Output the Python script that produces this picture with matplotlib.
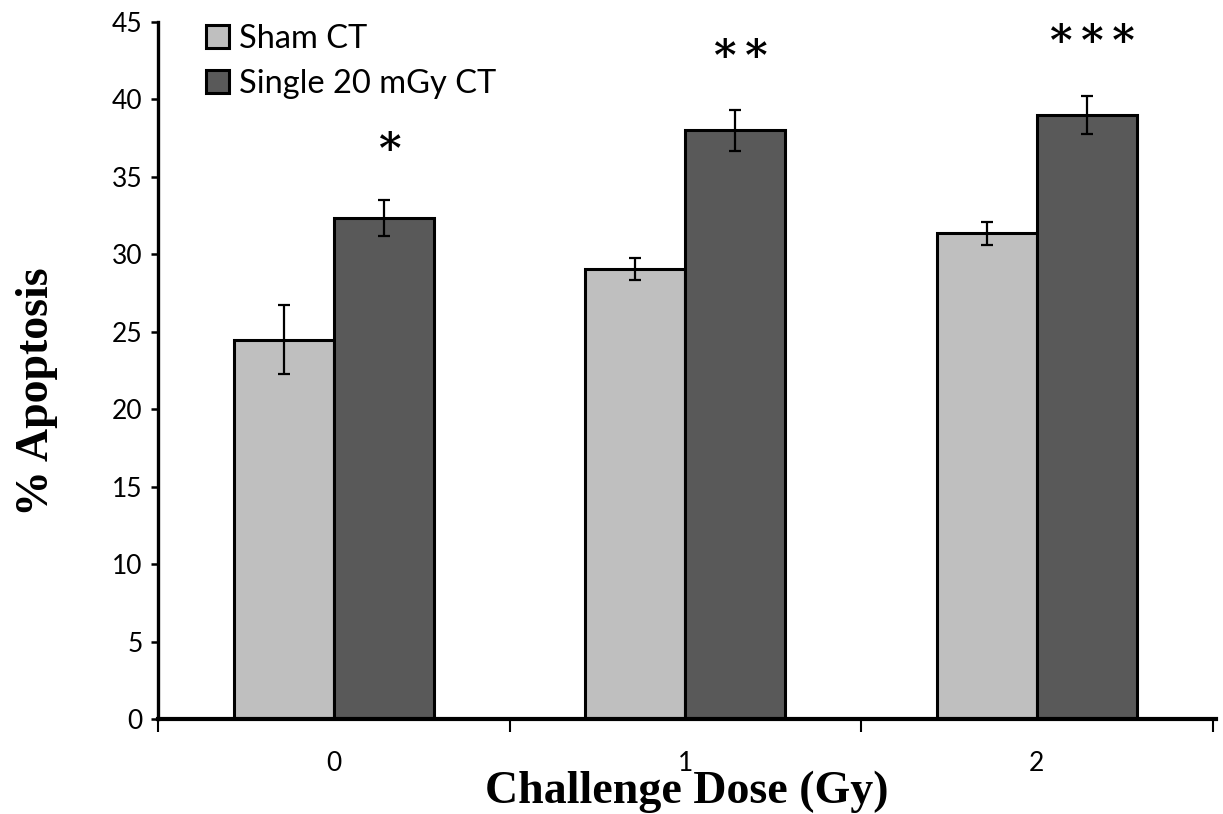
import matplotlib
matplotlib.use("Agg")
import matplotlib.pyplot as plt
import numpy as np

categories = ["0", "1", "2"]
sham = [24.5, 29.05, 31.35]
sham_err = [2.2, 0.7, 0.75]
single = [32.35, 38.0, 39.0]
single_err = [1.15, 1.3, 1.2]
stars = ["*", "*\u2009*", "*\u2009*\u2009*"]
star_y = [36.7, 42.7, 43.65]
series_names = ["Sham CT", "Single 20 mGy CT"]

fig = plt.figure(figsize=(12.23, 8.14), dpi=100)
ax = fig.add_axes([0.1292, 0.1167, 0.8651, 0.8563])

x = np.arange(len(categories))
w = 0.285
ek = dict(elinewidth=1.6, capthick=1.6, ecolor="black")
ax.bar(x - w / 2, sham, w, color="#BFBFBF", edgecolor="black", linewidth=2.2,
       yerr=sham_err, capsize=4.5, error_kw=ek, label=series_names[0], zorder=2)
ax.bar(x + w / 2, single, w, color="#595959", edgecolor="black", linewidth=2.2,
       yerr=single_err, capsize=4.5, error_kw=ek, label=series_names[1], zorder=2)

for xi, s, yv in zip(x, stars, star_y):
    ax.text(xi + w / 2 + 0.015, yv, s, ha="center", va="center", fontsize=31,
            fontweight="bold", family="DejaVu Serif")

ax.set_xlim(-0.5, 2.51)
ax.set_ylim(0, 45)
ax.set_yticks(np.arange(0, 46, 5))
ax.set_xticks(x)
ax.set_xticklabels(categories)
ax.set_xticks([-0.5, 0.5, 1.5, 2.5], minor=True)
ax.tick_params(axis="x", which="major", length=0, pad=23, labelsize=19)
ax.tick_params(axis="x", which="minor", length=9, width=1.5, direction="out")
ax.tick_params(axis="y", length=5, width=1.8, labelsize=19, pad=6)
for lab in ax.get_xticklabels() + ax.get_yticklabels():
    lab.set_family("Lato")

ax.spines["top"].set_visible(False)
ax.spines["right"].set_visible(False)
ax.spines["left"].set_linewidth(2.4)
ax.spines["bottom"].set_linewidth(3)

ax.set_xlabel("Challenge Dose (Gy)", family="Liberation Serif", fontweight="bold",
              fontsize=33, va="center")
ax.xaxis.set_label_coords(0.5, -0.104)
ax.set_ylabel("% Apoptosis", family="Liberation Serif", fontweight="bold",
              fontsize=33, va="center")
ax.yaxis.set_label_coords(-0.114, 0.47)

leg = ax.legend(loc="upper left", bbox_to_anchor=(0.033, 1.016), frameon=False,
                prop={"family": "Lato", "size": 23.5}, handlelength=0.7,
                handleheight=0.7, handletextpad=0.3, labelspacing=0.45,
                borderaxespad=0)
for p in leg.get_patches():
    p.set_linewidth(2.2)

fig.savefig("out.png", dpi=100)
